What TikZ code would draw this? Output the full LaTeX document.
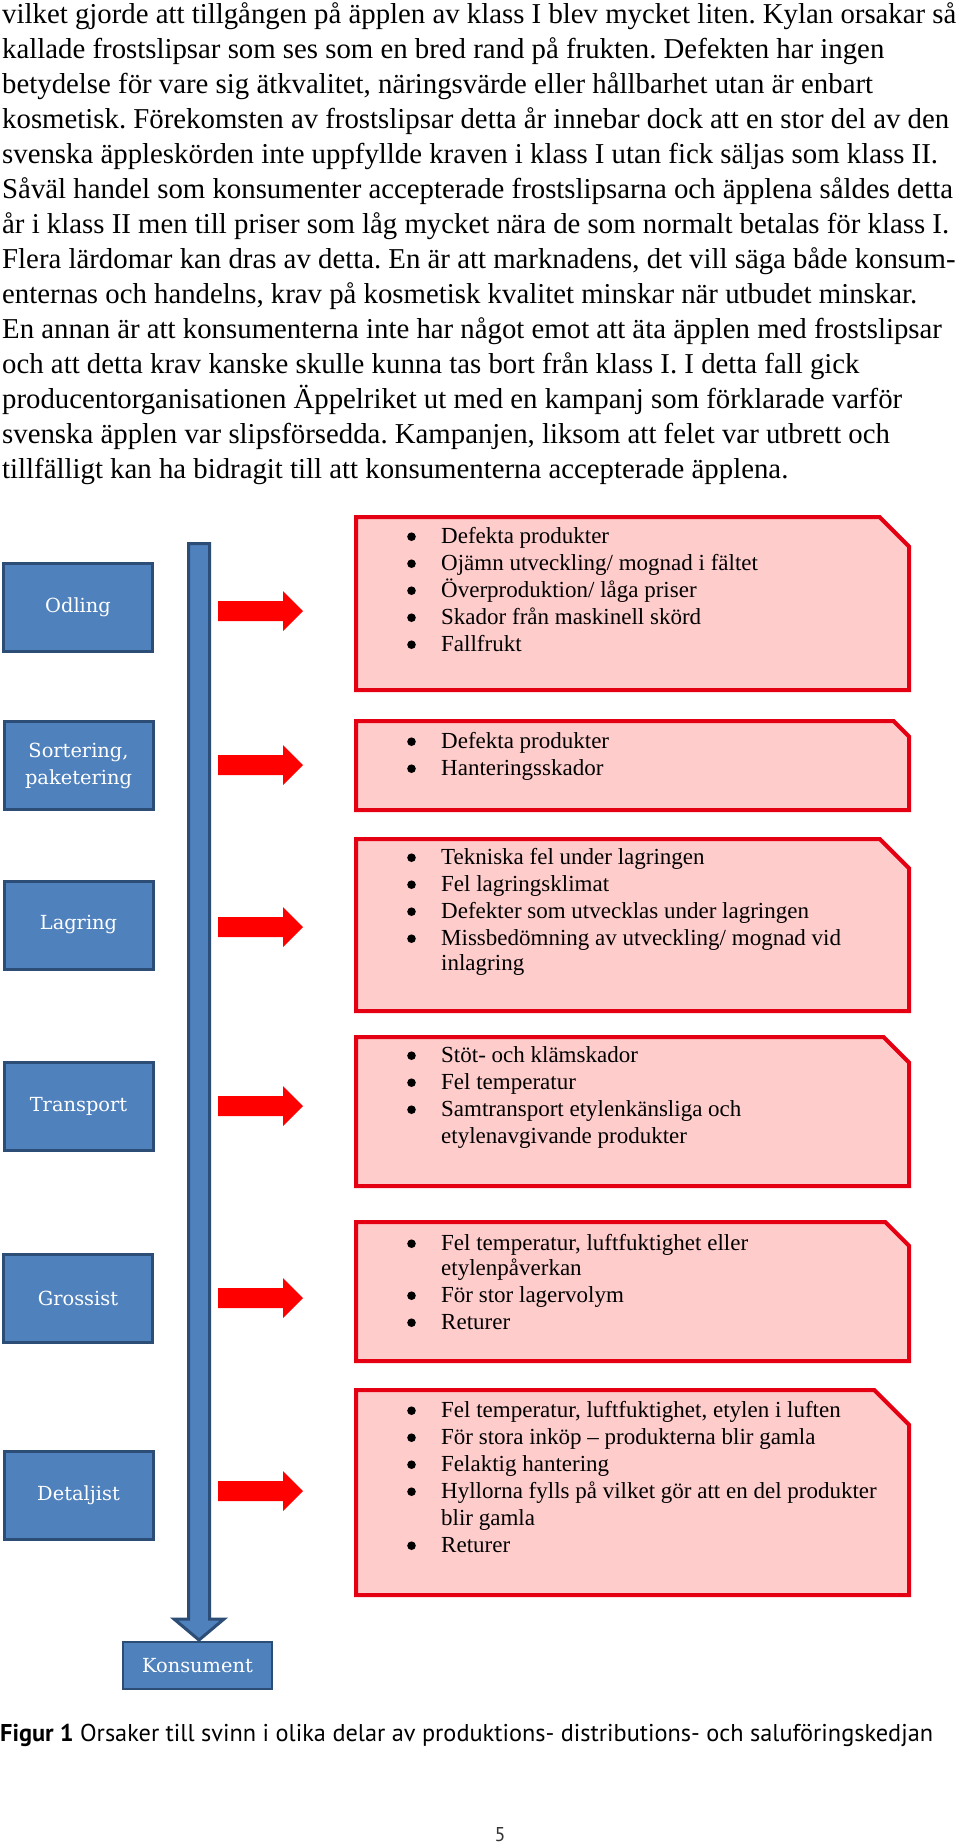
\documentclass[tikz,border=0pt]{standalone}
\usepackage{fontspec}
\setmainfont{Liberation Serif}
\newfontfamily\stagefont{DejaVu Serif}
\newfontfamily\capfont{PT Sans}
\frenchspacing
\definecolor{stageblue}{RGB}{79,129,189}
\definecolor{stageedge}{RGB}{44,77,117}
\definecolor{causered}{RGB}{255,0,0}
\definecolor{boxedge}{RGB}{228,0,18}
\definecolor{boxfill}{RGB}{255,204,204}
\newcommand{\snipbox}[3]{%
  \draw[causebox] (356,#1) -- ({909-#3},#1) -- (909,{#1+#3}) -- (909,#2) -- (356,#2) -- cycle;}
\newcommand{\causearrow}[1]{%
  \fill[causered] (218,{#1-10}) -- (283,{#1-10}) -- (283,{#1-20}) -- (303,#1) -- (283,{#1+20}) -- (283,{#1+10}) -- (218,{#1+10}) -- cycle;}
\newcommand{\bul}{\tikz[baseline=0pt]\fill[black] (4.5pt,6.3pt) circle[radius=4.3pt];}
\begin{document}
\begin{tikzpicture}[x=1pt,y=-1pt,
  stage/.style={draw=stageedge, line width=3pt, fill=stageblue, text=white,
    font=\stagefont\fontsize{19.4}{27}\selectfont, minimum width=149pt,
    minimum height=88pt, inner sep=0pt, align=center},
  causebox/.style={draw=boxedge, line width=4pt, fill=boxfill, line join=miter},
  itemlist/.style={anchor=base west, inner sep=0pt, font=\fontsize{23}{27}\selectfont}]
\useasboundingbox (0,0) rectangle (960,1846);
\fill[white] (0,0) rectangle (960,1846);

% body text
\node[anchor=base west, inner sep=0pt, font=\fontsize{28.8}{35}\selectfont] (body) at (2,24) {%
\begin{tabular}[t]{@{}l@{}}
vilket gjorde att tillgången på äpplen av klass I blev mycket liten. Kylan orsakar så\\
kallade frostslipsar som ses som en bred rand på frukten. Defekten har ingen\\
betydelse för vare sig ätkvalitet, näringsvärde eller hållbarhet utan är enbart\\
kosmetisk. Förekomsten av frostslipsar detta år innebar dock att en stor del av den\\
svenska äppleskörden inte uppfyllde kraven i klass I utan fick säljas som klass II.\\
Såväl handel som konsumenter accepterade frostslipsarna och äpplena såldes detta\\
år i klass II men till priser som låg mycket nära de som normalt betalas för klass I.\\
Flera lärdomar kan dras av detta. En är att marknadens, det vill säga både konsum-\\
enternas och handelns, krav på kosmetisk kvalitet minskar när utbudet minskar.\\
En annan är att konsumenterna inte har något emot att äta äpplen med frostslipsar\\
och att detta krav kanske skulle kunna tas bort från klass I. I detta fall gick\\
producentorganisationen Äppelriket ut med en kampanj som förklarade varför\\
svenska äpplen var slipsförsedda. Kampanjen, liksom att felet var utbrett och\\
tillfälligt kan ha bidragit till att konsumenterna accepterade äpplena.
\end{tabular}};

% main vertical flow arrow
\draw[stageedge, line width=3pt, fill=stageblue, line join=miter]
  (188.5,543.5) -- (209.5,543.5) -- (209.5,1619) -- (224,1619) -- (199,1640)
  -- (174,1619) -- (188.5,1619) -- cycle;

% stages
\node[stage] (odling) at (78,607) {Odling};
\node[stage] (sortering) at (78.5,765.5) {Sortering,\\paketering};
\node[stage] (lagring) at (78.5,925) {Lagring};
\node[stage] (transport) at (78.5,1106) {Transport};
\node[stage] (grossist) at (78,1298) {Grossist};
\node[stage] (detaljist) at (78.5,1495) {Detaljist};
\node[stage, line width=2pt, minimum height=47pt] (konsument) at (197.5,1665.5) {Konsument};

% red arrows
\causearrow{611}
\causearrow{765}
\causearrow{927}
\causearrow{1106}
\causearrow{1298}
\causearrow{1491}

% cause boxes
\snipbox{517}{690}{29.5}
\snipbox{721}{810}{15.5}
\snipbox{839}{1011}{29.3}
\snipbox{1037}{1186}{25.5}
\snipbox{1222}{1361}{23.8}
\snipbox{1390}{1595}{34.8}

\node[itemlist] (c1) at (407,543) {\begin{tabular}[t]{@{}p{34pt}@{}l@{}}
\bul & Defekta produkter\\
\bul & Ojämn utveckling/ mognad i fältet\\
\bul & Överproduktion/ låga priser\\
\bul & Skador från maskinell skörd\\
\bul & Fallfrukt
\end{tabular}};
\node[itemlist] (c2) at (407,748) {\begin{tabular}[t]{@{}p{34pt}@{}l@{}}
\bul & Defekta produkter\\
\bul & Hanteringsskador
\end{tabular}};
\node[itemlist] (c3) at (407,864) {\begin{tabular}[t]{@{}p{34pt}@{}l@{}}
\bul & Tekniska fel under lagringen\\
\bul & Fel lagringsklimat\\
\bul & Defekter som utvecklas under lagringen\\
\bul & Missbedömning av utveckling/ mognad vid\\[-2pt]
  & inlagring
\end{tabular}};
\node[itemlist] (c4) at (407,1062) {\begin{tabular}[t]{@{}p{34pt}@{}l@{}}
\bul & Stöt- och klämskador\\
\bul & Fel temperatur\\
\bul & Samtransport etylenkänsliga och\\
  & etylenavgivande produkter
\end{tabular}};
\node[itemlist] (c5) at (407,1250) {\begin{tabular}[t]{@{}p{34pt}@{}l@{}}
\bul & Fel temperatur, luftfuktighet eller\\[-2pt]
  & etylenpåverkan\\
\bul & För stor lagervolym\\
\bul & Returer
\end{tabular}};
\node[itemlist] (c6) at (407,1417) {\begin{tabular}[t]{@{}p{34pt}@{}l@{}}
\bul & Fel temperatur, luftfuktighet, etylen i luften\\
\bul & För stora inköp – produkterna blir gamla\\
\bul & Felaktig hantering\\
\bul & Hyllorna fylls på vilket gör att en del produkter\\
  & blir gamla\\
\bul & Returer
\end{tabular}};

% caption and page number
\node[anchor=base west, inner sep=0pt, font=\capfont\fontsize{24.3}{28}\selectfont] (caption) at (0,1741)
  {\textbf{Figur 1} Orsaker till svinn i olika delar av produktions- distributions- och saluföringskedjan};
\node[anchor=base, inner sep=0pt, text=black!80, font=\capfont\fontsize{20}{24}\selectfont] (pageno) at (500,1841) {5};
\end{tikzpicture}
\end{document}
